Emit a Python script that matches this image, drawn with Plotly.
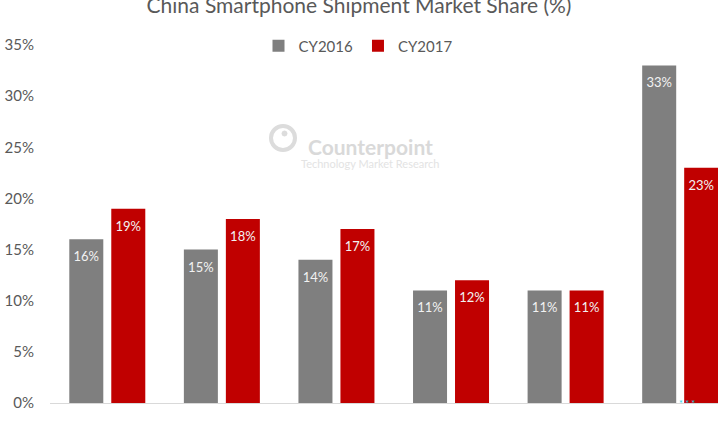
import plotly.graph_objects as go

categories = ["Huawei", "OPPO", "vivo", "Xiaomi", "Apple", "Others"]
cy2016 = [16, 15, 14, 11, 11, 33]
cy2017 = [19, 18, 17, 12, 11, 23]
y_ticks = [0, 5, 10, 15, 20, 25, 30, 35]
y_tick_labels = [f"{v}%" for v in y_ticks]

W, H = 718, 421
L, R, T, B = 50, 0, 45, 18
PW, PH = W - L - R, H - T - B
FONT = "Lato, Open Sans, sans-serif"
GAP = 0.267


def px(x):
    return (x - L) / PW


def py(y):
    return (H - B - y) / PH


fig = go.Figure()
for name, vals, col in [("CY2016", cy2016, "#7f7f7f"), ("CY2017", cy2017, "#c00000")]:
    fig.add_bar(name=name, x=categories, y=vals, marker_color=col,
                marker_line_width=0, hoverinfo="skip")
for vals in (cy2016, cy2017):
    fig.add_scatter(x=categories, y=vals, mode="markers+text",
                    text=[f"{v}%" for v in vals], textposition="bottom center",
                    marker=dict(size=18, opacity=0),
                    textfont=dict(color="#f2f2f2", size=13, family=FONT),
                    showlegend=False, hoverinfo="skip", cliponaxis=True)

# watermark
fig.add_annotation(text="<b>Counterpoint</b>", xref="paper", yref="paper",
                   x=px(370), y=py(132), showarrow=False,
                   font=dict(size=21, color="#d9d9d9", family=FONT))
fig.add_annotation(text="Technology Market Research", xref="paper", yref="paper",
                   x=px(370), y=py(155), showarrow=False,
                   font=dict(size=11, color="#e3e3e3", family=FONT))
fig.add_shape(type="circle", xref="paper", yref="paper",
              x0=px(271), x1=px(295), y0=py(150), y1=py(126),
              line=dict(color="#dcdcdc", width=4), layer="below")
fig.add_shape(type="circle", xref="paper", yref="paper",
              x0=px(282), x1=px(287), y0=py(136), y1=py(131),
              line=dict(color="#dcdcdc", width=1), fillcolor="#dcdcdc",
              layer="below")
fig.add_annotation(text="* * *", xref="paper", yref="paper",
                   x=px(697), y=0, yanchor="middle", showarrow=False,
                   font=dict(size=9, color="#22d3e6", family=FONT))

fig.update_layout(
    width=W, height=H,
    margin=dict(l=L, r=R, t=T, b=B, autoexpand=False),
    paper_bgcolor="white", plot_bgcolor="white",
    font=dict(family=FONT, color="#595959"),
    title=dict(text="China Smartphone Shipment Market Share (%)",
               x=0.5, xref="container", y=1 - 6 / H, yref="container",
               yanchor="middle", xanchor="center",
               font=dict(size=21, color="#595959", family=FONT)),
    barmode="group", bargap=GAP, bargroupgap=0.19,
    scattermode="group", scattergap=GAP,
    showlegend=True,
    legend=dict(orientation="h", xref="paper", yref="paper",
                x=px(358), y=py(46), xanchor="center", yanchor="middle",
                font=dict(size=15, color="#595959", family=FONT),
                itemwidth=30, traceorder="normal", bgcolor="rgba(0,0,0,0)"),
    xaxis=dict(range=[-0.5, 5.33], showticklabels=False, showgrid=False,
               showline=True, linecolor="#d9d9d9", linewidth=1, ticks="",
               fixedrange=True, automargin=False),
    yaxis=dict(range=[0, 35], tickmode="array", tickvals=y_ticks,
               ticktext=y_tick_labels,
               showgrid=False, zeroline=False, showline=False,
               tickfont=dict(size=15, color="#595959", family=FONT),
               ticklabelstandoff=15, automargin=False, fixedrange=True),
)

fig.write_html("out.html", config={"displayModeBar": False},
               post_script="document.body.style.margin='0';")
